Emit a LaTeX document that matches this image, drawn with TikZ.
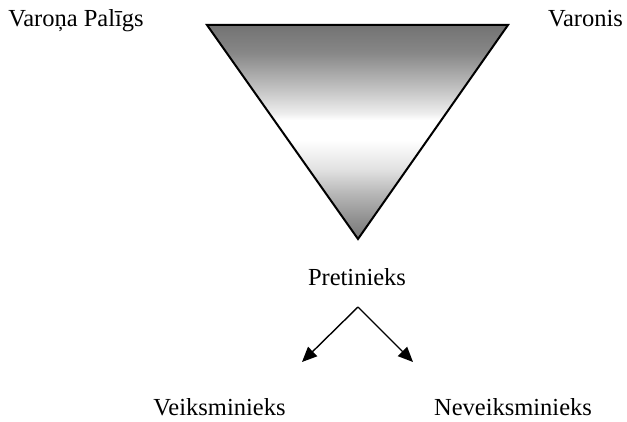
\documentclass[tikz,border=0pt]{standalone}
\usepackage{fontspec}
\setmainfont{Liberation Serif}
\usetikzlibrary{arrows.meta}
\pgfdeclareverticalshading{trishade}{100bp}{%
  color(0bp)=(black!53);
  color(25bp)=(black!53);
  color(29.4bp)=(black!44);
  color(35.7bp)=(black!28);
  color(41.1bp)=(black!12);
  color(48.1bp)=(white);
  color(52.8bp)=(white);
  color(54.4bp)=(black!7);
  color(60.5bp)=(black!25);
  color(68.5bp)=(black!47);
  color(75bp)=(black!55);
  color(100bp)=(black!55)}
\begin{document}
\begin{tikzpicture}[x=1pt,y=-1pt,
  lbl/.style={font=\fontsize{24.5}{29}\selectfont, inner sep=0pt, anchor=base},
  arr/.style={line width=1.4pt, -{Triangle[length=15pt,width=13pt]}}]
\useasboundingbox (0,0) rectangle (627,422);
\path[shading=trishade, draw=black, line width=2pt, line join=miter]
  (207,25) coordinate (tl) -- (508,25) coordinate (tr) -- (358,239) coordinate (ap) -- cycle;
\node[lbl] (helper) at (76,27) {Varoņa Palīgs};
\node[lbl] (hero) at (585.5,27) {Varonis};
\node[lbl] (opp) at (357,286) {Pretinieks};
\node[lbl] (succ) at (219.5,415) {Veiksminieks};
\node[lbl] (fail) at (513,415) {Neveiksminieks};
\coordinate (fork) at (358,307);
\coordinate (lend) at (302,362);
\coordinate (rend) at (413,362);
\draw[arr] (fork) -- (lend);
\draw[arr] (fork) -- (rend);
\end{tikzpicture}
\end{document}
